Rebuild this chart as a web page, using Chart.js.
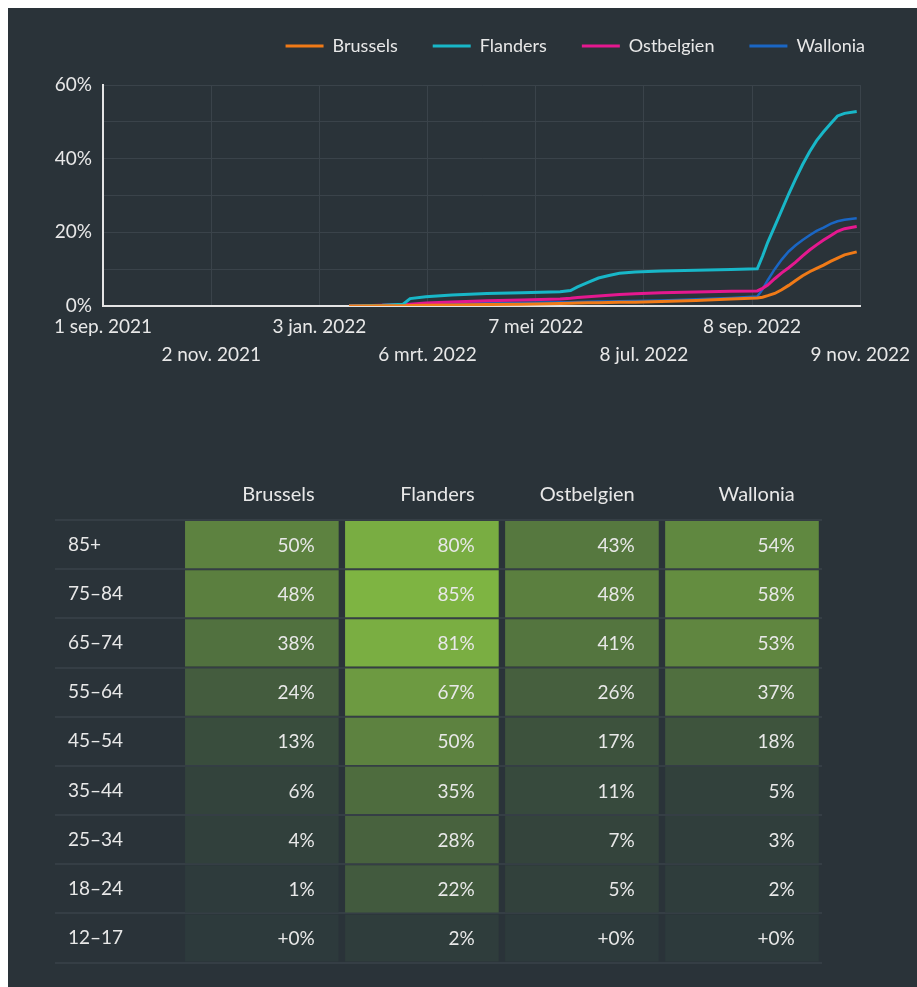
<!DOCTYPE html>
<html>
<head>
<meta charset="utf-8">
<title>Vaccinatiegraad per regio</title>
<script src="https://cdn.jsdelivr.net/npm/chart.js@4.4.0/dist/chart.umd.min.js"></script>
<style>
    html, body { margin: 0; padding: 0; background: #ffffff; }
    #panel { position: absolute; left: 8px; top: 8px; width: 909px; height: 979px; background: #2a3339; overflow: hidden; }
    #line-chart { position: absolute; left: 0; top: -6px; }
    #table-chart { position: absolute; left: 0; top: 464px; }
</style>
</head>
<body>
<div id="panel">
    <canvas id="line-chart" width="909" height="384"></canvas>
    <canvas id="table-chart" width="909" height="515"></canvas>
</div>
<script>
// Days since 1 sep. 2021
const dateTicks = ['1 sep. 2021', '2 nov. 2021', '3 jan. 2022', '6 mrt. 2022', '7 mei 2022', '8 jul. 2022', '8 sep. 2022', '9 nov. 2022'];
const dayOffsets = [141, 160, 172, 176, 185, 200, 220, 240, 262, 268, 272, 278, 284, 290, 296, 305, 320, 340, 360, 375,
    378, 381, 385, 389, 393, 397, 401, 405, 409, 413, 417, 421, 425, 432];

const brussels = [0, 0.05, 0.1, 0.15, 0.2, 0.3, 0.4, 0.5, 0.7, 0.75, 0.8, 0.85, 0.9, 0.95, 1.0, 1.05, 1.2, 1.5, 1.9, 2.2,
    2.4, 2.8, 3.4, 4.4, 5.6, 6.9, 8.2, 9.3, 10.2, 11.1, 12.1, 13.0, 13.9, 14.7];
const flanders = [0, 0.2, 0.5, 2.0, 2.5, 3.0, 3.4, 3.6, 3.9, 4.2, 5.2, 6.4, 7.6, 8.3, 8.9, 9.2, 9.5, 9.7, 9.9, 10.1,
    13.5, 17.3, 21.6, 26.0, 30.4, 34.5, 38.4, 41.9, 44.9, 47.3, 49.5, 51.6, 52.3, 52.8];
const ostbelgien = [0, 0.2, 0.4, 0.5, 0.8, 1.1, 1.4, 1.6, 1.9, 2.1, 2.3, 2.5, 2.7, 2.9, 3.1, 3.3, 3.6, 3.8, 4.0, 4.1,
    4.8, 5.7, 7.4, 9.0, 10.4, 11.9, 13.6, 15.2, 16.6, 17.9, 19.1, 20.3, 21.0, 21.6];
const wallonia = [0, 0.1, 0.3, 0.4, 0.5, 0.6, 0.8, 0.9, 1.0, 1.05, 1.1, 1.15, 1.2, 1.25, 1.3, 1.35, 1.5, 1.8, 2.2, 2.6,
    4.5, 7.0, 10.0, 12.6, 14.8, 16.5, 17.9, 19.2, 20.4, 21.3, 22.3, 23.0, 23.4, 23.8];

const regions = ['Brussels', 'Flanders', 'Ostbelgien', 'Wallonia'];
const ageGroups = ['85+', '75–84', '65–74', '55–64', '45–54', '35–44', '25–34', '18–24', '12–17'];
const brusselsByAge = [50, 48, 38, 24, 13, 6, 4, 1, 0];
const flandersByAge = [80, 85, 81, 67, 50, 35, 28, 22, 2];
const ostbelgienByAge = [43, 48, 41, 26, 17, 11, 7, 5, 0];
const walloniaByAge = [54, 58, 53, 37, 18, 5, 3, 2, 0];

const regionColors = ['#f07a17', '#18b7c8', '#e5188f', '#1a66c4'];
const textColor = '#e8e8e8';
const gridColor = '#3a434a';
const legendPadding = 35;

function toPoints(values) {
    return values.map((v, i) => ({ x: dayOffsets[i], y: v }));
}

const seriesByRegion = [brussels, flanders, ostbelgien, wallonia];
const shareByRegion = [brusselsByAge, flandersByAge, ostbelgienByAge, walloniaByAge];

// extra room under the legend, and let the last item end at the plot's right edge
const legendSpacing = {
    id: 'legendSpacing',
    beforeInit(chart) {
        const fit = chart.legend.fit;
        chart.legend.fit = function () {
            fit.call(this);
            this.height += 20;
        };
    },
    afterLayout(chart) {
        chart.legend.right += legendPadding;
    }
};

// Line chart
new Chart(document.getElementById('line-chart').getContext('2d'), {
    type: 'line',
    data: {
        datasets: regions.map((name, i) => ({
            label: name,
            data: toPoints(seriesByRegion[i]),
            borderColor: regionColors[i],
            backgroundColor: regionColors[i],
            borderWidth: i === 3 ? 2.5 : 3,
            pointRadius: 0,
            tension: 0,
            fill: false
        }))
    },
    options: {
        responsive: false,
        animation: false,
        layout: { padding: { left: 8, right: 52, top: 0, bottom: 0 } },
        plugins: {
            legend: {
                position: 'top',
                align: 'end',
                labels: {
                    boxWidth: 38,
                    boxHeight: 3,
                    padding: legendPadding,
                    color: textColor,
                    font: { family: 'Lato', size: 18 },
                    generateLabels: (chart) => Chart.defaults.plugins.legend.labels.generateLabels(chart)
                        .map(l => ({ ...l, lineWidth: 0 }))
                }
            },
            tooltip: { enabled: false }
        },
        scales: {
            x: {
                type: 'linear',
                min: 0,
                max: 434,
                ticks: {
                    stepSize: 62,
                    autoSkip: false,
                    maxRotation: 0,
                    padding: 7,
                    color: textColor,
                    font: { family: 'Lato', size: 19, lineHeight: 1.47 },
                    callback: (value) => {
                        const i = Math.round(value / 62);
                        return i % 2 === 0 ? [dateTicks[i]] : ['', dateTicks[i]];
                    }
                },
                grid: { color: gridColor, lineWidth: 1, drawTicks: false },
                border: { color: '#e4e4e4', width: 2 },
                afterFit: (scale) => { scale.height = 80; }
            },
            y: {
                min: 0,
                max: 60,
                ticks: {
                    stepSize: 10,
                    padding: 11,
                    color: textColor,
                    font: { family: 'Lato', size: 19 },
                    callback: (v) => (v % 20 === 0 ? v + '%' : '')
                },
                grid: { color: gridColor, lineWidth: 1, drawTicks: false },
                border: { color: '#e4e4e4', width: 2 },
                afterFit: (scale) => { scale.width = 87; }
            }
        }
    },
    plugins: [legendSpacing]
});

// Heat table
const lowCell = [45, 58, 60];
const highCell = [126, 180, 66];

function cellColor(v) {
    const t = Math.min(v / 85, 1);
    const c = lowCell.map((lo, k) => Math.round(lo + (highCell[k] - lo) * t));
    return `rgb(${c[0]}, ${c[1]}, ${c[2]})`;
}

function formatShare(v) {
    return v === 0 ? '+0%' : v + '%';
}

const cellTextPlugin = {
    id: 'cellText',
    afterDatasetsDraw(chart) {
        const { ctx, chartArea } = chart;
        ctx.save();
        ctx.fillStyle = textColor;
        ctx.textAlign = 'right';
        ctx.textBaseline = 'middle';
        chart.data.datasets.forEach((ds, col) => {
            const meta = chart.getDatasetMeta(col);
            ctx.font = '19px Lato';
            meta.data.forEach((bar, row) => {
                ctx.fillText(formatShare(shareByRegion[col][row]), bar.x - 24, bar.y + 1);
            });
            ctx.font = '20px Lato';
            ctx.fillText(ds.label, meta.data[0].x - 24, chartArea.top - 25);
        });
        ctx.restore();
    }
};

new Chart(document.getElementById('table-chart').getContext('2d'), {
    type: 'bar',
    data: {
        labels: ageGroups,
        datasets: regions.map((name, col) => ({
            label: name,
            data: ageGroups.map(() => [col + 0.02, col + 0.98]),
            backgroundColor: (c) => cellColor(shareByRegion[col][c.dataIndex]),
            barPercentage: 0.96,
            categoryPercentage: 1,
            grouped: false
        }))
    },
    options: {
        indexAxis: 'y',
        responsive: false,
        animation: false,
        layout: { padding: { left: 47, right: 95, top: 48, bottom: 22 } },
        plugins: {
            legend: { display: false },
            tooltip: { enabled: false }
        },
        scales: {
            x: { type: 'linear', min: -0.7925, max: 4, display: false },
            y: {
                type: 'category',
                ticks: {
                    mirror: true,
                    padding: 13,
                    color: textColor,
                    font: { family: 'Lato', size: 19 }
                },
                grid: { color: '#353e45', lineWidth: 2, drawTicks: false, offset: true },
                border: { display: false },
                afterFit: (scale) => { scale.width = 0; }
            }
        }
    },
    plugins: [cellTextPlugin]
});
</script>
</body>
</html>
